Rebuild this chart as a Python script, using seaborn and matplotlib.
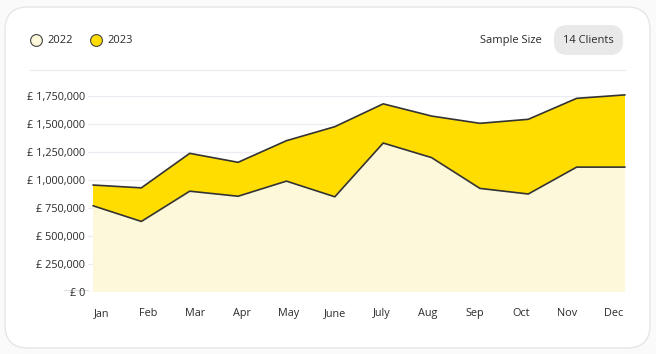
import numpy as np
import pandas as pd
import matplotlib.pyplot as plt
import seaborn as sns
from matplotlib.patches import FancyBboxPatch
from matplotlib.lines import Line2D
from matplotlib.ticker import FuncFormatter

# Chart data
months = ['Jan', 'Feb', 'Mar', 'Apr', 'May', 'June', 'July', 'Aug', 'Sep', 'Oct', 'Nov', 'Dec']
revenue_2022 = [770000, 630000, 900000, 855000, 990000, 850000, 1330000, 1200000, 925000, 875000, 1115000, 1115000]
revenue_2023 = [955000, 930000, 1238000, 1158000, 1351000, 1476000, 1680000, 1571000, 1506000, 1542000, 1729000, 1760000]
y_ticks = [0, 250000, 500000, 750000, 1000000, 1250000, 1500000, 1750000]
series_names = ['2022', '2023']
sample_label = 'Sample Size'
sample_value = '14 Clients'

COLOR_2022 = '#fcf8d9'
COLOR_2023 = '#ffdd00'
LINE_COLOR = '#333333'
TEXT_COLOR = '#2b2b2b'
GRID_COLOR = '#ececf4'

sns.set_theme(style='white')
plt.rcParams['font.family'] = ['Open Sans', 'DejaVu Sans']

W, H = 656, 354
fig = plt.figure(figsize=(W / 100, H / 100), dpi=100)
fig.patch.set_facecolor('#fafafa')


def px(x, y):
    """pixel (top-left origin) -> figure fraction"""
    return x / W, 1 - y / H


# card background (behind everything)
card = FancyBboxPatch(px(5, 348), 645 / W, 341 / H,
                      boxstyle='round,pad=0,rounding_size=0.035',
                      transform=fig.transFigure, facecolor='white',
                      edgecolor='#e6e6e6', linewidth=1.0, mutation_aspect=W / H,
                      zorder=-10)
fig.patches.append(card)

df = pd.DataFrame({'month': months, 'idx': np.arange(len(months)),
                   '2022': revenue_2022, '2023': revenue_2023})

# axes placement: gridline starts at x=88, Jan at x=93, Dec at x=625
ax_left, ax_right = 88, 625
ax_top, ax_bottom = 96, 292
ax = fig.add_axes([ax_left / W, 1 - ax_bottom / H, (ax_right - ax_left) / W, (ax_bottom - ax_top) / H])
ax.set_facecolor('none')
ax.set_zorder(2)
step = (625 - 93) / 11

for yt in y_ticks:
    ax.axhline(yt, color=GRID_COLOR, linewidth=0.9, zorder=0)

ax.fill_between(df['idx'], 0, df['2023'], color=COLOR_2023, linewidth=0,
                edgecolor='none', zorder=1, clip_on=False)
ax.fill_between(df['idx'], 0, df['2022'], color=COLOR_2022, linewidth=0,
                edgecolor='none', zorder=2, clip_on=False)
sns.lineplot(data=df, x='idx', y='2023', color=LINE_COLOR, linewidth=1.2, ax=ax, zorder=3, clip_on=False)
sns.lineplot(data=df, x='idx', y='2022', color=LINE_COLOR, linewidth=1.2, ax=ax, zorder=3, clip_on=False)

ax.set_xlim(-(93 - 88) / step, 11)
ax.set_ylim(0, 1750000)

for s in ax.spines.values():
    s.set_visible(False)

ax.set_yticks(y_ticks)
ax.yaxis.set_major_formatter(FuncFormatter(lambda v, p: f'£ {int(v):,}'))
ax.tick_params(axis='y', length=0, pad=2, labelsize=7.8, labelcolor=TEXT_COLOR)

# month labels sit on a slightly narrower spacing than the data
label_pos = np.linspace((102 - 93) / step, (614 - 93) / step, len(months))
ax.set_xticks(label_pos)
ax.set_xticklabels(months)
ax.tick_params(axis='x', length=0, pad=11.5, labelsize=7.8, labelcolor=TEXT_COLOR)
ax.set_xlabel('')
ax.set_ylabel('')

# short baseline stub left of the zero line
fig.add_artist(Line2D([64 / W, 88 / W], [1 - 290 / H] * 2, color='#dcdcdc', linewidth=0.8))

# header separator
fig.add_artist(Line2D([30 / W, 625 / W], [1 - 70 / H] * 2, color='#ececec', linewidth=1.0))

# legend
for (cx, lx), name, col in zip([(36, 47), (96, 107)], series_names, [COLOR_2022, COLOR_2023]):
    fig.add_artist(Line2D([cx / W], [1 - 40 / H], marker='o', markersize=8.5,
                          markerfacecolor=col, markeredgecolor='#444444',
                          markeredgewidth=0.8, linestyle='none', zorder=5))
    fig.text(*px(lx, 40.5), name, fontsize=8, color=TEXT_COLOR, va='center', ha='left')

# sample size pill
fig.text(*px(511, 40.5), sample_label, fontsize=8, color=TEXT_COLOR, va='center', ha='center')
pill = FancyBboxPatch(px(554, 55), 69 / W, 30 / H,
                      boxstyle='round,pad=0,rounding_size=0.02',
                      transform=fig.transFigure, facecolor='#e9e9e9',
                      edgecolor='none', mutation_aspect=W / H, zorder=-5)
fig.patches.append(pill)
fig.text(*px(588.5, 40.5), sample_value, fontsize=8, color=TEXT_COLOR, va='center', ha='center')

fig.savefig('out.png', dpi=100)
